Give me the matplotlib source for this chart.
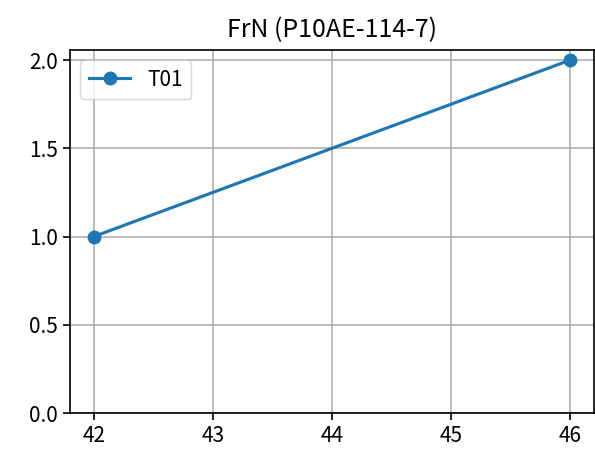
import matplotlib as mpl
import matplotlib.pyplot as plt

mpl.rcParams["font.family"] = ["Noto Sans CJK JP", "DejaVu Sans"]
mpl.rcParams["font.size"] = 15

x_vals = [42, 46]
y_vals = [1.0, 2.0]
series_name = "T01"
title = "FrN (P10AE-114-7)"

fig = plt.figure(figsize=(5.95, 4.57), dpi=100)
ax = fig.add_axes([70 / 595, 1 - 413 / 457, 524 / 595, 363 / 457])

ax.plot(x_vals, y_vals, marker="o", color="#1f77b4", linewidth=2.25,
        markersize=9, label=series_name)
ax.set_ylim(0, 2.057)
ax.set_xlim(41.8, 46.2)
ax.set_xticks([42, 43, 44, 45, 46])
ax.set_yticks([0.0, 0.5, 1.0, 1.5, 2.0])
ax.grid(True, color="#b0b0b0", linewidth=1.2)
ax.tick_params(length=5, width=1.2)
for s in ax.spines.values():
    s.set_linewidth(1.2)
ax.set_title(title, fontsize=18, pad=9)
ax.legend(loc="upper left")

fig.savefig("out.png", dpi=100)
